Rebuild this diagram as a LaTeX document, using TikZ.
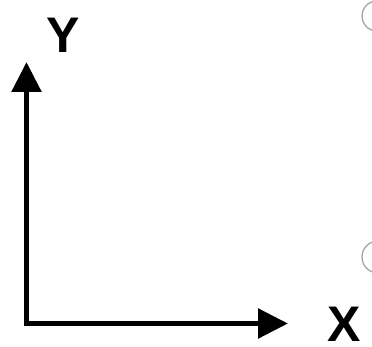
\documentclass[tikz,border=0pt]{standalone}
\usepackage{fontspec}
\setmainfont{Liberation Sans}
\usetikzlibrary{arrows.meta}
\begin{document}
\begin{tikzpicture}[x=1pt,y=-1pt,
  axis/.style={line width=5.5pt, {Triangle[length=30pt,width=29pt]}-{Triangle[length=30pt,width=29pt]}},
  axlabel/.style={font=\fontsize{50}{50}\selectfont\bfseries, inner sep=0pt, text=black},
  ring/.style={draw=black!35, line width=1.3pt}]
\clip (0,0) rectangle (372,347);
\fill[white] (0,0) rectangle (372,347);
\coordinate (ytip) at (26.5,62);
\coordinate (xtip) at (288,323.5);
\draw[axis] (ytip) |- (xtip);
\node[axlabel] (ylab) at (63.5,35) {Y};
\node[axlabel] (xlab) at (344,324) {X};
\draw[ring] (377,16) circle (15);
\draw[ring] (378,257) circle (16);
\end{tikzpicture}
\end{document}
